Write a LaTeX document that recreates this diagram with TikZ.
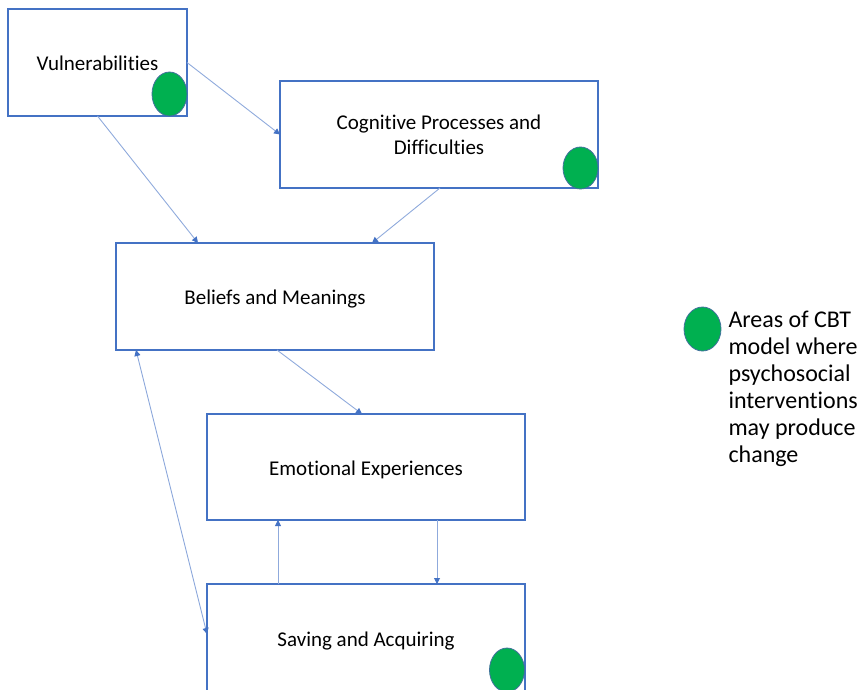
\documentclass[tikz,border=0pt]{standalone}
\usepackage{fontspec}
\setmainfont{Carlito}[Ligatures=NoCommon]
\usetikzlibrary{arrows.meta,shapes.geometric}

\definecolor{boxblue}{HTML}{4472C4}
\definecolor{linkblue}{HTML}{8FAADC}
\definecolor{dotgreen}{HTML}{00B050}
\definecolor{dotedge}{HTML}{41719C}

\begin{document}
\begin{tikzpicture}
[x=1pt,y=-1pt,
 every node/.style={rectangle,draw=boxblue,line width=1.4pt,outer sep=0pt,inner sep=0pt,
   align=center,font=\fontsize{21}{25}\selectfont},
 box/.style={minimum width=318pt,minimum height=107pt,text height=17pt,text depth=1pt},
 dot/.style={ellipse,draw=dotedge,line width=0.8pt,fill=dotgreen,minimum width=35pt,minimum height=44pt},
 link/.style={draw=linkblue,line width=0.9pt,-{Triangle[length=6pt,width=6pt,color=boxblue]}}]
\useasboundingbox (0,0) rectangle (859,690);
\node[box,minimum width=179pt] (vul) at (97.5,62.5) {Vulnerabilities};
\node[minimum width=318pt,minimum height=107pt] (cog) at (439,134.5) {Cognitive Processes and\\Difficulties};
\node[box] (bel) at (275,296.5) {Beliefs and Meanings};
\node[box,minimum height=106pt] (emo) at (366,467) {Emotional Experiences};
\node[box,minimum height=108pt] (sav) at (366,638) {Saving and Acquiring};
\node[dot] (dotvul) at (169.5,94) {};
\node[dot,minimum height=42pt] (dotcog) at (580.5,168) {};
\node[dot] (dotsav) at (507,670) {};
\node[dot,minimum width=37pt] (dotkey) at (702.5,329) {};
\node[draw=none,anchor=west,align=left,font=\fontsize{24}{27}\selectfont] (key) at (728.5,388.5)
  {Areas of CBT\\model where\\psychosocial\\interventions\\may produce\\change};
\foreach \from/\dx/\to/\ex in {vul.south/0pt/bel.north/-77pt,vul.east/0pt/cog.west/0pt,
  cog.south/1pt/bel.north/97pt,bel.south/2pt/emo.north/-4pt,emo.south/71pt/sav.north/71pt,
  sav.north/-88pt/emo.south/-88pt}
\draw[link] ([xshift=\dx]\from) -- ([xshift=\ex]\to);
\draw[link,{Triangle[length=6pt,width=6pt,color=boxblue]}-{Triangle[length=6pt,width=6pt,color=boxblue]}]
  ([xshift=20pt]bel.south west) -- ([yshift=4pt]sav.west);
\end{tikzpicture}
\end{document}
